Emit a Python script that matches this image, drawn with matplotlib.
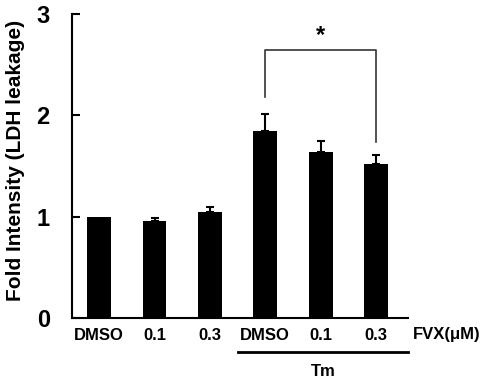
import numpy as np
import matplotlib.pyplot as plt

plt.rcParams['font.family'] = ['Liberation Sans', 'DejaVu Sans']
plt.rcParams['font.weight'] = 'bold'

labels = ['DMSO', '0.1', '0.3', 'DMSO', '0.1', '0.3']
values = [1.00, 0.96, 1.05, 1.85, 1.64, 1.52]
errors = [0.00, 0.03, 0.05, 0.16, 0.11, 0.09]

fig = plt.figure(figsize=(4.9, 3.82), dpi=100)
ax = fig.add_axes([0.147, 0.1675, 0.686, 0.7955])

x = np.arange(len(values))
ax.bar(x, values, width=0.43, color='black')
err = np.array(errors)
has = err > 0
ax.errorbar(x[has], np.array(values)[has], yerr=[np.zeros(has.sum()), err[has]], fmt='none',
            ecolor='black', elinewidth=1.5, capsize=3, capthick=1.5)

ax.set_xlim(-0.49, 5.58)
ax.set_ylim(0, 3)
ax.set_yticks([0, 1, 2, 3])
ax.set_yticklabels(['0', '1', '2', '3'], fontsize=17, fontweight='bold')
ax.set_xticks(x)
ax.set_xticklabels(labels, fontsize=12, fontweight='bold')
ax.tick_params(axis='x', length=0, pad=7)
ax.tick_params(axis='y', direction='in', length=6, width=1.5, pad=16)
ax.spines['top'].set_visible(False)
ax.spines['right'].set_visible(False)
ax.spines['left'].set_linewidth(1.5)
ax.spines['bottom'].set_linewidth(1.5)
ax.set_ylabel('Fold Intensity (LDH leakage)', fontsize=15, fontweight='bold')
ax.yaxis.set_label_coords(-0.14, 0.52)

# significance bracket
ax.plot([3, 3, 5, 5], [2.18, 2.65, 2.65, 1.74], color='#333333', lw=1.2)
ax.text(4, 2.68, '*', ha='center', va='bottom', fontsize=17, fontweight='bold')

# FVX label and Tm bar
ax.text(5.66, -0.09, 'FVX(μM)', ha='left', va='top', fontsize=12, fontweight='bold',
        clip_on=False)
ax.plot([2.5, 5.58], [-0.34, -0.34], color='black', lw=2, clip_on=False)
ax.text(4.05, -0.45, 'Tm', ha='center', va='top', fontsize=12, fontweight='bold')

fig.savefig('out.png', dpi=100)
